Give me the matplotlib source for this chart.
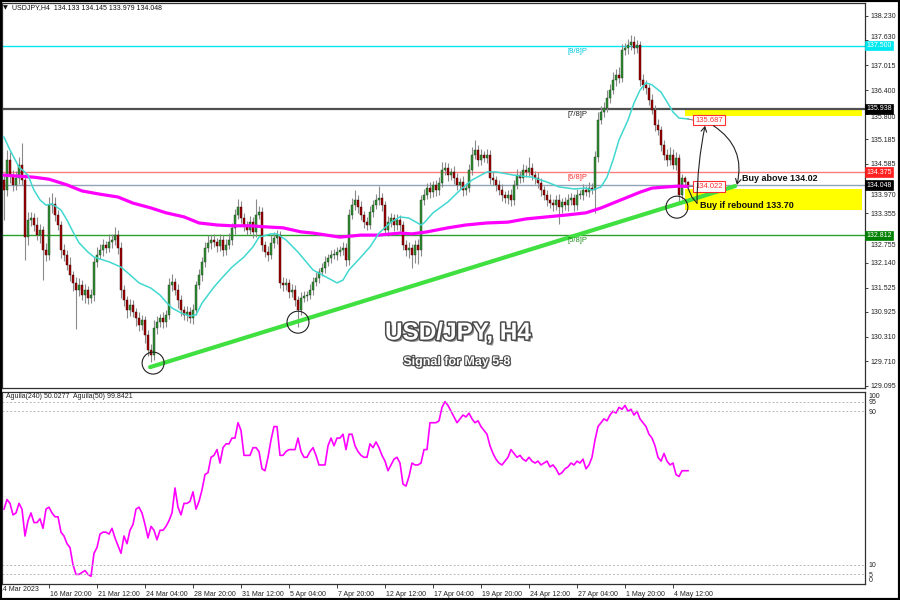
import numpy as np
import matplotlib
matplotlib.use("Agg")
import matplotlib.pyplot as plt
from matplotlib import patheffects as pe
from matplotlib.patches import Rectangle
from matplotlib.transforms import blended_transform_factory, ScaledTranslation

plt.rcParams['font.family'] = ['Liberation Sans', 'DejaVu Sans']

# ---------------- data ----------------
first_open = 134.18
closes = [
    133.93, 134.67, 134.30, 134.06, 134.23, 134.55, 134.18, 132.77, 133.19, 133.24,
    133.07, 132.82, 132.95, 132.45, 132.33, 133.56, 133.60, 133.32, 133.07, 132.45,
    132.33, 132.08, 131.84, 131.64, 131.46, 131.59, 131.34, 131.46, 131.27, 131.34,
    132.16, 132.33, 132.45, 132.58, 132.50, 132.65, 132.70, 132.82, 132.50, 131.46,
    131.22, 130.97, 131.09, 130.92, 130.77, 130.60, 130.72, 130.35, 129.98, 129.86,
    130.53, 130.67, 130.77, 130.67, 130.85, 131.59, 131.66, 131.46, 131.22, 130.97,
    130.85, 130.92, 130.77, 130.97, 131.59, 131.84, 132.16, 132.50, 132.63, 132.70,
    132.65, 132.55, 132.70, 132.45, 132.58, 132.70, 133.00, 133.32, 133.51, 133.24,
    133.07, 132.95, 133.14, 132.90, 133.32, 133.39, 132.58, 132.40, 132.33, 132.63,
    132.75, 132.82, 131.64, 131.59, 131.64, 131.42, 131.46, 131.22, 130.97, 131.27,
    131.32, 131.34, 131.46, 131.66, 131.76, 131.91, 132.01, 132.16, 132.25, 132.33,
    132.33, 132.40, 132.45, 132.50, 132.21, 133.32, 133.56, 133.69, 133.51, 133.32,
    133.14, 133.07, 133.39, 133.56, 133.69, 133.74, 133.56, 132.95, 133.14, 133.24,
    133.07, 133.19, 133.07, 132.58, 132.45, 132.50, 132.33, 132.58, 132.45, 133.69,
    133.81, 133.98, 133.88, 134.06, 133.93, 134.11, 134.43, 134.48, 134.30, 134.38,
    134.23, 134.06, 134.13, 133.93, 133.98, 134.43, 134.80, 134.92, 134.67, 134.80,
    134.72, 134.80, 134.23, 134.18, 134.06, 133.93, 133.81, 133.74, 133.81, 133.69,
    134.06, 134.30, 134.23, 134.43, 134.38, 134.48, 134.30, 134.23, 134.11, 133.93,
    133.81, 133.69, 133.61, 133.56, 133.69, 133.51, 133.64, 133.56, 133.69, 133.74,
    133.56, 133.81, 133.81, 133.93, 133.88, 133.98, 133.93, 134.75, 135.66, 135.86,
    135.96, 136.21, 136.40, 136.65, 136.77, 136.70, 137.39, 137.44, 137.51, 137.59,
    137.44, 137.51, 136.65, 136.53, 136.45, 136.16, 135.91, 135.54, 135.42, 135.05,
    134.80, 134.67, 134.80, 134.55, 134.72, 133.81, 134.23, 134.133, 134.048]

upper_wick = [
    0.15, 0.25, 0.20, 0.12, 0.18, 0.20, 0.55, 0.15, 0.20, 0.15,
    0.12, 0.20, 0.15, 0.10, 0.18, 0.20, 0.25, 0.15, 0.12, 0.10,
    0.15, 0.12, 0.20, 0.10, 0.15, 0.18, 0.12, 0.15, 0.10, 0.15,
    0.12, 0.20, 0.15, 0.15, 0.10, 0.20, 0.15, 0.20, 0.12, 0.15,
    0.12, 0.10, 0.15, 0.12, 0.10, 0.15, 0.12, 0.10, 0.12, 0.15,
    0.20, 0.15, 0.10, 0.15, 0.12, 0.18, 0.20, 0.10, 0.15, 0.12,
    0.10, 0.15, 0.12, 0.15, 0.10, 0.15, 0.12, 0.15, 0.20, 0.12,
    0.15, 0.10, 0.15, 0.12, 0.15, 0.18, 0.12, 0.15, 0.20, 0.15,
    0.12, 0.10, 0.15, 0.12, 0.40, 0.15, 0.12, 0.10, 0.15, 0.20,
    0.15, 0.12, 0.10, 0.15, 0.12, 0.10, 0.15, 0.12, 0.10, 0.15,
    0.12, 0.10, 0.15, 0.12, 0.15, 0.10, 0.12, 0.15, 0.10, 0.12,
    0.15, 0.12, 0.10, 0.15, 0.12, 0.15, 0.18, 0.25, 0.12, 0.15,
    0.10, 0.12, 0.15, 0.12, 0.15, 0.30, 0.12, 0.10, 0.15, 0.12,
    0.10, 0.15, 0.12, 0.10, 0.12, 0.15, 0.10, 0.12, 0.15, 0.12,
    0.15, 0.12, 0.15, 0.10, 0.12, 0.15, 0.20, 0.15, 0.12, 0.10,
    0.15, 0.12, 0.10, 0.15, 0.12, 0.15, 0.20, 0.25, 0.12, 0.15,
    0.10, 0.15, 0.12, 0.15, 0.10, 0.12, 0.15, 0.10, 0.12, 0.15,
    0.12, 0.15, 0.10, 0.15, 0.12, 0.28, 0.12, 0.10, 0.15, 0.12,
    0.10, 0.12, 0.15, 0.10, 0.12, 0.15, 0.10, 0.12, 0.15, 0.12,
    0.10, 0.15, 0.12, 0.15, 0.10, 0.15, 0.12, 0.15, 0.20, 0.15,
    0.15, 0.20, 0.15, 0.20, 0.15, 0.20, 0.15, 0.12, 0.15, 0.18,
    0.15, 0.12, 0.10, 0.15, 0.12, 0.10, 0.15, 0.12, 0.15, 0.10,
    0.12, 0.15, 0.20, 0.15, 0.15, 0.10, 0.10, 0.06, 0.012]

lower_wick = [
    0.74, 0.15, 0.20, 0.15, 0.12, 0.15, 0.12, 0.57, 0.20, 0.15,
    0.15, 0.12, 0.20, 0.75, 0.15, 0.12, 0.20, 0.15, 0.12, 0.20,
    0.15, 0.12, 0.15, 0.20, 0.95, 0.15, 0.12, 0.20, 0.15, 0.12,
    0.15, 0.12, 0.10, 0.15, 0.12, 0.10, 0.15, 0.12, 0.15, 0.20,
    0.15, 0.20, 0.15, 0.12, 0.20, 0.15, 0.12, 0.20, 0.15, 0.18,
    0.12, 0.15, 0.12, 0.15, 0.12, 0.10, 0.15, 0.12, 0.20, 0.15,
    0.12, 0.15, 0.12, 0.15, 0.12, 0.10, 0.15, 0.12, 0.10, 0.15,
    0.12, 0.15, 0.12, 0.15, 0.12, 0.10, 0.12, 0.15, 0.10, 0.12,
    0.15, 0.12, 0.10, 0.15, 0.12, 0.10, 0.15, 0.12, 0.15, 0.10,
    0.12, 0.15, 0.12, 0.15, 0.12, 0.15, 0.12, 0.15, 0.42, 0.12,
    0.10, 0.12, 0.10, 0.12, 0.10, 0.12, 0.10, 0.12, 0.10, 0.12,
    0.10, 0.12, 0.10, 0.12, 0.15, 0.12, 0.10, 0.12, 0.15, 0.12,
    0.15, 0.12, 0.10, 0.12, 0.10, 0.12, 0.15, 0.12, 0.15, 0.12,
    0.15, 0.12, 0.15, 0.12, 0.15, 0.20, 0.33, 0.20, 0.35, 0.15,
    0.12, 0.10, 0.15, 0.12, 0.15, 0.12, 0.10, 0.12, 0.15, 0.12,
    0.15, 0.12, 0.10, 0.15, 0.12, 0.10, 0.12, 0.10, 0.15, 0.12,
    0.10, 0.12, 0.15, 0.12, 0.15, 0.12, 0.15, 0.12, 0.15, 0.15,
    0.12, 0.10, 0.12, 0.10, 0.12, 0.10, 0.12, 0.15, 0.12, 0.15,
    0.12, 0.15, 0.12, 0.15, 0.12, 0.41, 0.15, 0.12, 0.15, 0.12,
    0.15, 0.12, 0.10, 0.12, 0.10, 0.12, 0.10, 0.56, 0.12, 0.10,
    0.12, 0.10, 0.12, 0.10, 0.15, 0.12, 0.10, 0.12, 0.15, 0.12,
    0.15, 0.12, 0.15, 0.12, 0.15, 0.12, 0.10, 0.15, 0.12, 0.15,
    0.12, 0.15, 0.12, 0.10, 0.12, 0.20, 0.10, 0.10, 0.069]

ma_slow_bars = [0, 10, 15, 21, 26, 32, 38, 43, 49, 54, 60, 65, 71, 76, 82, 88, 93, 99, 103, 112,
                119, 125, 132, 136, 141, 148, 154, 161, 168, 174, 181, 188, 194, 199, 203, 208,
                212, 216, 221, 225, 228]
ma_slow_vals = [134.30, 134.25, 134.20, 134.06, 133.91, 133.83, 133.76, 133.61, 133.49, 133.37,
                133.27, 133.12, 133.07, 133.05, 133.05, 133.02, 133.00, 132.90, 132.87, 132.77,
                132.82, 132.82, 132.87, 132.85, 132.90, 133.00, 133.07, 133.12, 133.14, 133.22,
                133.27, 133.32, 133.37, 133.49, 133.61, 133.76, 133.88, 133.98, 134.01, 134.03,
                134.022]

ma_fast_bars = [0, 2, 5, 8, 10, 12, 14, 16, 19, 21, 23, 25, 28, 30, 32, 35, 39, 42, 45, 49,
                52, 54, 56, 59, 62, 64, 66, 70, 73, 76, 80, 83, 85, 89, 91, 94, 98, 103, 108, 111,
                113, 115, 119, 122, 125, 129, 132, 135, 139, 140, 143, 148, 152, 156, 161, 164,
                170, 176, 181, 185, 190, 194, 196, 199, 201, 203, 205, 208, 210, 212, 214, 216,
                219, 221, 223, 225, 228]
ma_fast_vals = [135.24, 134.92, 134.50, 134.30, 133.93, 133.69, 133.56, 133.59, 133.44, 133.19,
                132.90, 132.63, 132.40, 132.28, 132.23, 132.16, 132.03, 131.84, 131.64, 131.51,
                131.34, 131.17, 131.02, 130.90, 130.82, 130.85, 131.14, 131.54, 131.79, 132.03,
                132.28, 132.53, 132.77, 132.85, 132.85, 132.70, 132.40, 131.96, 131.76, 131.64,
                131.71, 131.96, 132.28, 132.53, 132.87, 133.14, 133.27, 133.24, 133.07, 133.12,
                133.37, 133.64, 133.93, 134.18, 134.38, 134.38, 134.30, 134.25, 134.13, 134.01,
                133.96, 133.98, 133.93, 134.01, 134.25, 134.67, 135.17, 135.66, 136.08, 136.40,
                136.58, 136.53, 136.35, 136.11, 135.86, 135.71, 135.687]

aguila_vals = [
    39, 44, 42, 36, 37, 42, 39, 25, 33, 37,
    32, 32, 34, 29, 39, 40, 37, 35, 35, 27,
    25, 21, 19, 10, 5, 5, 6, 7, 5, 4,
    16, 19, 26, 27, 27, 26, 29, 24, 20, 16,
    25, 21, 28, 31, 39, 40, 37, 31, 24, 30,
    28, 23, 28, 28, 30, 33, 37, 50, 40, 36,
    42, 42, 43, 48, 39, 43, 49, 57, 58, 66,
    67, 70, 63, 71, 73, 73, 76, 76, 84, 80,
    67, 67, 67, 71, 71, 69, 60, 59, 66, 75,
    82, 82, 67, 67, 69, 70, 70, 70, 76, 69,
    66, 66, 69, 71, 67, 62, 62, 62, 72, 76,
    72, 76, 76, 78, 70, 78, 78, 72, 69, 67,
    66, 66, 73, 71, 74, 71, 67, 64, 59, 62,
    65, 66, 63, 52, 51, 56, 63, 62, 62, 63,
    70, 70, 84, 84, 84, 85, 92, 95, 93, 90,
    87, 84, 86, 88, 87, 89, 86, 84, 85, 82,
    80, 78, 72, 68, 65, 63, 62, 64, 66, 70,
    68, 66, 67, 65, 64, 66, 64, 63, 64, 62,
    63, 64, 61, 62, 60, 57, 58, 60, 61, 63,
    62, 64, 63, 65, 60, 62, 66, 75, 82, 84,
    86, 85, 88, 90, 89, 92, 91, 93, 90, 91,
    88, 90, 86, 84, 82, 78, 76, 72, 66, 64,
    68, 64, 62, 63, 57, 56, 59, 59, 59]

price_ticks = [138.230, 137.630, 137.015, 136.400, 135.800, 135.185, 134.585, 133.970,
               133.355, 132.755, 132.140, 131.525, 130.925, 130.310, 129.710, 129.095]
level_prices = [137.500, 135.938, 134.375, 134.048, 132.812]
level_colors = ['#00e8f0', '#505050', '#ff7c7c', '#90a4b8', '#2aa02a']
level_box_colors = ['#00e8f0', '#000000', '#ff2020', '#000000', '#008000']
murrey_labels = ['[8/8]P', '[7/8]P', '[6/8]P', '[5/8]P']
murrey_prices = [137.500, 135.938, 134.375, 132.812]
murrey_colors = ['#00c8e0', '#202020', '#ff3030', '#209020']

time_tick_bars = [15, 31, 47, 63, 79, 95, 111, 127, 143, 159, 175, 191, 207, 223]
time_tick_labels = ['16 Mar 20:00', '21 Mar 12:00', '24 Mar 04:00', '28 Mar 20:00',
                    '31 Mar 12:00', '5 Apr 04:00', '7 Apr 20:00', '12 Apr 12:00',
                    '17 Apr 04:00', '19 Apr 20:00', '24 Apr 12:00', '27 Apr 04:00',
                    '1 May 20:00', '4 May 12:00']
first_date_label = '14 Mar 2023'

trend_bars = [48.7, 243.7]
trend_prices = [129.56, 134.03]
circle_bars = [49.7, 98.0, 224.3]
circle_prices = [129.66, 130.67, 133.51]
zone_bars = [227, 286]
zone_upper = [135.76, 135.938]
zone_lower = [133.44, 133.96]

aguila_levels = [0, 5, 10, 90, 95, 100]

# ---------------- figure ----------------
W, H = 900, 600
fig = plt.figure(figsize=(9, 6), dpi=100)
fig.patch.set_facecolor('white')


def fx(p):
    return p / W


def fy(p):
    return 1 - p / H


ax = fig.add_axes([fx(2), fy(388), fx(865) - fx(2), fy(3) - fy(388)])
ax2 = fig.add_axes([fx(2), fy(584), fx(865) - fx(2), fy(392) - fy(584)])

closes = np.array(closes)
n = len(closes)
xb = np.arange(n)
opens = np.r_[first_open, closes[:-1]]
highs = np.maximum(opens, closes) + np.array(upper_wick)
lows = np.minimum(opens, closes) - np.array(lower_wick)
up = closes >= opens

ax.vlines(xb, lows, highs, color='#8a8a8a', lw=0.8, zorder=3)
body = np.abs(closes - opens)
body = np.where(body < 0.02, 0.02, body)
ax.bar(xb[up], body[up], bottom=opens[up], width=0.66, color='#2f8f2f',
       edgecolor='#1f3f1f', lw=0.3, zorder=4)
ax.bar(xb[~up], body[~up], bottom=closes[~up], width=0.66, color='#a00000',
       edgecolor='#3a0000', lw=0.3, zorder=4)

# horizontal levels
for p, c in zip(level_prices, level_colors):
    lw = 1.6 if c == '#505050' else 1.0
    ax.axhline(p, color=c, lw=lw, zorder=2)

# zones
ax.fill_between(zone_bars, zone_upper[0], zone_upper[1], color='#ffff00', lw=0, zorder=1)
ax.fill_between(zone_bars, zone_lower[0], zone_lower[1], color='#ffff00', lw=0, zorder=1)

# moving averages
ax.plot(ma_slow_bars, ma_slow_vals, color='#ff00ff', lw=2.3, zorder=5, solid_capstyle='round')
ax.plot(ma_fast_bars, ma_fast_vals, color='#40d8d0', lw=1.1, zorder=5)

# trend line
ax.plot(trend_bars, trend_prices, color='#3fe03f', lw=3.0, zorder=6, solid_capstyle='round')

# circles
ax.scatter(circle_bars, circle_prices, s=250, facecolors='none', edgecolors='#202020',
           lw=0.8, zorder=7)

# murrey labels
for lab, p, c in zip(murrey_labels, murrey_prices, murrey_colors):
    ax.text(188, p - 0.05, lab, color=c, fontsize=5.5, va='top', ha='left', zorder=6)

# MA value labels
ax.plot([228, 229.7], [ma_fast_vals[-1], 135.66], color='#777777', lw=0.7, zorder=5)
ax.plot([228, 229.7], [ma_slow_vals[-1], 134.02], color='#777777', lw=0.7, zorder=5)
ax.text(235, 135.66, '135.687', color='#ff3030', fontsize=5.5, ha='center', va='center',
        zorder=8, bbox=dict(boxstyle='square,pad=0.25', fc='white', ec='#ff3030', lw=0.8))
ax.text(235, 134.01, '134.022', color='#ff3030', fontsize=5.5, ha='center', va='center',
        zorder=8, bbox=dict(boxstyle='square,pad=0.25', fc='white', ec='#ff3030', lw=0.8))

# arrows
ax.plot([228, 229.3, 231], [133.98, 133.76, 133.61], color='#222222', lw=0.8, zorder=8)
ax.annotate('', xy=(233.7, 135.52), xytext=(231, 133.61),
            arrowprops=dict(arrowstyle='->,head_length=0.35,head_width=0.2', color='#222222',
                            lw=0.8, connectionstyle='arc3,rad=-0.05', shrinkA=0, shrinkB=0),
            zorder=9)
ax.annotate('', xy=(244.3, 134.06), xytext=(236.5, 135.52),
            arrowprops=dict(arrowstyle='->,head_length=0.35,head_width=0.2', color='#222222',
                            lw=0.8, connectionstyle='arc3,rad=-0.35', shrinkA=0, shrinkB=0),
            zorder=9)

ax.text(246, 134.22, 'Buy above 134.02', fontsize=6.5, fontweight='bold', color='#111111',
        ha='left', va='center', zorder=9)
ax.text(232, 133.56, 'Buy if rebound 133.70', fontsize=6.5, fontweight='bold', color='#111111',
        ha='left', va='center', zorder=9)

# axes styling
ax.set_xlim(-2 / 3, 287)
ax.set_ylim(138.625 - 388 / 40.5, 138.625 - 3 / 40.5)
ax.set_xticks([])
ax.yaxis.tick_right()
ax.set_yticks(price_ticks)
ax.set_yticklabels(['%.3f' % v for v in price_ticks])
ax.tick_params(axis='y', labelsize=5, length=2.5, width=0.6, pad=1.5, colors='#222222')
# labels partly hidden behind the level boxes: nudge them to peek out as in the reference
nudges = {'137.630': 4.0, '135.800': -2.5, '133.970': -5.5, '132.755': -6.5}
for lab in ax.get_yticklabels():
    t = lab.get_text()
    if t in nudges:
        lab.set_transform(lab.get_transform() +
                          ScaledTranslation(0, nudges[t] / 100, fig.dpi_scale_trans))
for s in ax.spines.values():
    s.set_color('#303030')
    s.set_linewidth(0.9)

# right side price boxes
tr = blended_transform_factory(ax.transAxes, ax.transData)
for p, c in zip(level_prices, level_box_colors):
    ax.text(1.0016, p, '%.3f' % p, transform=tr, fontsize=5, color='white', ha='left',
            va='center', clip_on=False, zorder=10,
            bbox=dict(boxstyle='square,pad=0.2', fc=c, ec=c, lw=0.5))

# ---------------- lower panel ----------------
ax2.plot(np.arange(len(aguila_vals)), aguila_vals, color='#ff00ff', lw=1.2)
for lv in [95, 90, 10, 5]:
    ax2.axhline(lv, color='#b8b8b8', lw=0.7, ls=(0, (2, 2)))
ax2.set_xlim(-2 / 3, 287)
ax2.set_ylim(0, 100)
ax2.yaxis.tick_right()
ax2.set_yticks(aguila_levels)
ax2.set_yticklabels([str(v) for v in aguila_levels])
ax2.tick_params(axis='y', labelsize=5, length=0, pad=2.5, colors='#222222')
for lab in ax2.get_yticklabels():
    if lab.get_text() == '100':
        lab.set_transform(lab.get_transform() + ScaledTranslation(0, -3 / 100, fig.dpi_scale_trans))
    if lab.get_text() == '0':
        lab.set_transform(lab.get_transform() + ScaledTranslation(0, 4 / 100, fig.dpi_scale_trans))
ax2.set_xticks(time_tick_bars)
ax2.set_xticklabels(time_tick_labels, ha='left')
ax2.tick_params(axis='x', labelsize=5, length=3, width=0.6, pad=2, colors='#222222')
for lab in ax2.get_xticklabels():
    lab.set_transform(lab.get_transform() + ScaledTranslation(1.5 / 100, 0, fig.dpi_scale_trans))
trb = blended_transform_factory(ax2.transData, ax2.transAxes)
ax2.text(-1.7, -0.012, first_date_label, transform=trb, fontsize=5, color='#222222',
         ha='left', va='top', clip_on=False)
for s in ax2.spines.values():
    s.set_color('#303030')
    s.set_linewidth(0.9)

ax2.text(0.6, 97.5, 'Aguila(240) 50.0277  Aguila(50) 99.8421', fontsize=5, color='#222222',
         ha='left', va='center')

# ---------------- header / titles ----------------
fig.text(fx(3), fy(8), '\u25bc', fontsize=4.5, color='#111111', va='center', ha='left',
         family=['DejaVu Sans'])
fig.text(fx(12), fy(8), 'USDJPY,H4  134.133 134.145 133.979 134.048', fontsize=5,
         color='#111111', va='center', ha='left')

effects = [pe.SimplePatchShadow(offset=(1.6, -1.6), shadow_rgbFace='#333333', alpha=0.55),
           pe.Stroke(linewidth=2.2, foreground='#4a4a4a'), pe.Normal()]
fig.text(fx(458), fy(333), 'USD/JPY, H4', fontsize=17.5, fontweight='bold', color='white',
         ha='center', va='center', path_effects=effects, zorder=20)
effects2 = [pe.SimplePatchShadow(offset=(1.0, -1.0), shadow_rgbFace='#333333', alpha=0.55),
            pe.Stroke(linewidth=1.6, foreground='#4a4a4a'), pe.Normal()]
fig.text(fx(457), fy(362), 'Signal for May 5-8', fontsize=9, fontweight='bold', color='white',
         ha='center', va='center', path_effects=effects2, zorder=20)

fig.patches.append(Rectangle((0, 0), 1, 1, transform=fig.transFigure, fill=False,
                             ec='#000000', lw=3.0, zorder=50))

fig.savefig('out.png', dpi=100, facecolor='white')
